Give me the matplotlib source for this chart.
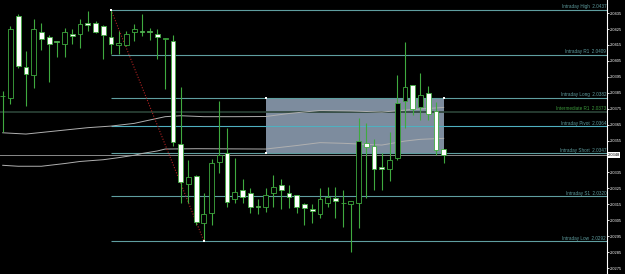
import matplotlib
matplotlib.use("Agg")
import matplotlib.pyplot as plt
from matplotlib.patches import Rectangle

# candle data
opens = [2.03831, 2.03815, 2.04332, 2.04010, 2.03960, 2.04229, 2.04200, 2.04174, 2.04158, 2.04221,
         2.04217, 2.04290, 2.04290, 2.04269, 2.04200, 2.04150, 2.04148, 2.04229, 2.04239, 2.04239,
         2.04219, 2.04187, 2.04177, 2.03529, 2.03276, 2.03328, 2.03031, 2.03098, 2.03417, 2.03470,
         2.03182, 2.03240, 2.03219, 2.03141, 2.03135, 2.03219, 2.03269, 2.03219, 2.03207, 2.03150,
         2.03123, 2.03087, 2.03160, 2.03190, 2.03161, 2.03150, 2.03157, 2.03537, 2.03518, 2.03386,
         2.03370, 2.03439, 2.03798, 2.03899, 2.03759, 2.03847, 2.03737, 2.03497]
highs = [2.03863, 2.04269, 2.04344, 2.04114, 2.04313, 2.04290, 2.04214, 2.04176, 2.04254, 2.04250,
         2.04313, 2.04363, 2.04302, 2.04275, 2.04370, 2.04239, 2.04239, 2.04281, 2.04342, 2.04258,
         2.04250, 2.04194, 2.04212, 2.03888, 2.03428, 2.03334, 2.03219, 2.03433, 2.03798, 2.03627,
         2.03439, 2.03307, 2.03251, 2.03182, 2.03251, 2.03334, 2.03307, 2.03271, 2.03209, 2.03158,
         2.03150, 2.03251, 2.03261, 2.03261, 2.03240, 2.03172, 2.03690, 2.03658, 2.03560, 2.03470,
         2.03606, 2.03961, 2.04170, 2.03899, 2.03972, 2.03892, 2.03794, 2.03497]
lows = [2.03606, 2.03780, 2.04004, 2.03767, 2.03878, 2.04118, 2.03919, 2.04076, 2.04073, 2.04156,
        2.04129, 2.04239, 2.04223, 2.04060, 2.04093, 2.04093, 2.04143, 2.04177, 2.04206, 2.04181,
        2.04060, 2.03872, 2.03516, 2.03157, 2.03157, 2.03020, 2.02918, 2.03020, 2.03348, 2.03135,
        2.03157, 2.03160, 2.03094, 2.03089, 2.03104, 2.03135, 2.03119, 2.03125, 2.03098, 2.03020,
        2.03031, 2.03066, 2.03135, 2.03062, 2.03010, 2.02849, 2.03000, 2.03188, 2.03240, 2.03240,
        2.03298, 2.03428, 2.03627, 2.03711, 2.03679, 2.03679, 2.03460, 2.03407]
closes = [2.03829, 2.04248, 2.04018, 2.03968, 2.04248, 2.04189, 2.04158, 2.04168, 2.04229, 2.04208,
          2.04280, 2.04277, 2.04229, 2.04211, 2.04158, 2.04160, 2.04219, 2.04248, 2.04231, 2.04231,
          2.04202, 2.04192, 2.03539, 2.03288, 2.03323, 2.03037, 2.03089, 2.03407, 2.03460, 2.03167,
          2.03229, 2.03198, 2.03131, 2.03133, 2.03209, 2.03261, 2.03238, 2.03198, 2.03131, 2.03129,
          2.03110, 2.03182, 2.03198, 2.03169, 2.03159, 2.03169, 2.03549, 2.03512, 2.03370, 2.03374,
          2.03428, 2.03788, 2.03888, 2.03746, 2.03838, 2.03717, 2.03491, 2.03460]

# moving averages (sampled at candle index)
ma_fast_idx = [0, 3, 6, 11, 14, 17, 19, 21, 23, 26, 30, 34, 37, 41, 45, 49, 53, 57]
ma_fast = [2.03599, 2.03591, 2.03606, 2.03631, 2.03641, 2.03658, 2.03679, 2.03700, 2.03706, 2.03700,
           2.03700, 2.03701, 2.03720, 2.03739, 2.03736, 2.03729, 2.03745, 2.03758]
ma_slow_idx = [0, 2, 5, 8, 10, 13, 15, 17, 18, 20, 21, 25, 34, 38, 41, 44, 49, 52, 54, 57]
ma_slow = [2.03395, 2.03389, 2.03389, 2.03406, 2.03419, 2.03430, 2.03443, 2.03458, 2.03469, 2.03485,
           2.03497, 2.03499, 2.03497, 2.03519, 2.03537, 2.03533, 2.03522, 2.03547, 2.03558, 2.03564]

# pivot levels
level_names = ["Intraday High", "Intraday R1", "Intraday Long", "Intermediate R1",
               "Intraday Pivot", "Intraday Short", "Intraday S1", "Intraday Low"]
level_values = [2.0437, 2.0409, 2.0382, 2.0373, 2.0364, 2.0347, 2.0320, 2.0292]

tick_values = [2.0435, 2.0425, 2.0415, 2.0405, 2.0395, 2.0385, 2.0375, 2.0365, 2.0355,
               2.0335, 2.0325, 2.0315, 2.0305, 2.0295, 2.0285, 2.0275]
bid_price = 2.0346
bid_label = "2.0348"

green = "#3faa3f"
teal = "#5f9ea0"

fig = plt.figure(figsize=(6.25, 2.74), dpi=100, facecolor="black")
ax = fig.add_axes([0, 0, 606.7 / 625, 1])
ax.set_facecolor("black")
n = len(opens)
ax.set_xlim(-0.35, 78.07)
ax.set_ylim(2.02713, 2.04432)

# box between long and short levels
ax.add_patch(Rectangle((34, level_values[5]), 23, level_values[2] - level_values[5],
                       facecolor="#7d8c9e", edgecolor="none", zorder=1))

# levels
for name, val in zip(level_names, level_values):
    if name == "Intermediate R1":
        ax.axhline(val, color="#2c4438", lw=1.2, zorder=1.5)
        tc = "#3c9a3c"
    else:
        ax.hlines(val, 14, 78.07, color=teal if name != "Intraday Pivot" else "#4fb0c0",
                  lw=0.8, zorder=1.5)
        tc = teal
    ax.text(78.0, val + 0.00003, "%s  %.4f" % (name, val), color=tc, fontsize=3.3,
            family="Liberation Sans", ha="right", va="bottom", zorder=6)

# bid line
ax.axhline(bid_price, color="#8a8a8a", lw=0.7, zorder=1.5)

# moving averages
ax.plot(ma_fast_idx, ma_fast, color="#b0b0b0", lw=0.7, zorder=2)
ax.plot(ma_slow_idx, ma_slow, color="#b0b0b0", lw=0.7, zorder=2)

# trend line high -> low
ax.plot([14, 26], [level_values[0], level_values[7]], color="#b22222", lw=0.8,
        ls=(0, (1, 1.5)), zorder=2.5)
ax.scatter([14, 26, 34, 34, 57], [level_values[0], level_values[7], level_values[2],
           level_values[5], level_values[2]], marker="s", s=1.5, color="white", zorder=7, lw=0)

# candles
for i in range(n):
    o, h, l, c = opens[i], highs[i], lows[i], closes[i]
    ax.vlines(i, l, h, color=green, lw=0.8, zorder=3)
    bottom = min(o, c)
    height = max(abs(c - o), 0.00002)
    face = "black" if c > o else "white"
    ax.bar(i, height, width=0.62, bottom=bottom, color=face, edgecolor=green, lw=0.6, zorder=4)

# right price scale
ax.yaxis.tick_right()
ax.set_yticks(tick_values)
ax.set_yticklabels(["%.4f" % v for v in tick_values])
ax.tick_params(axis="y", colors="white", labelsize=2.9, length=1.5, width=0.6, pad=1)
for lab in ax.get_yticklabels():
    lab.set_family("Liberation Sans")
ax.set_xticks([])
for s in ["top", "bottom", "left"]:
    ax.spines[s].set_visible(False)
ax.spines["right"].set_color("white")
ax.spines["right"].set_linewidth(0.8)

ax.text(1.001, bid_price, bid_label, transform=ax.get_yaxis_transform(), fontsize=2.9,
        family="Liberation Sans", color="black", va="center", ha="left", clip_on=False,
        bbox=dict(facecolor="white", edgecolor="none", pad=0.5), zorder=8)

fig.savefig("out.png", dpi=100, facecolor="black")
